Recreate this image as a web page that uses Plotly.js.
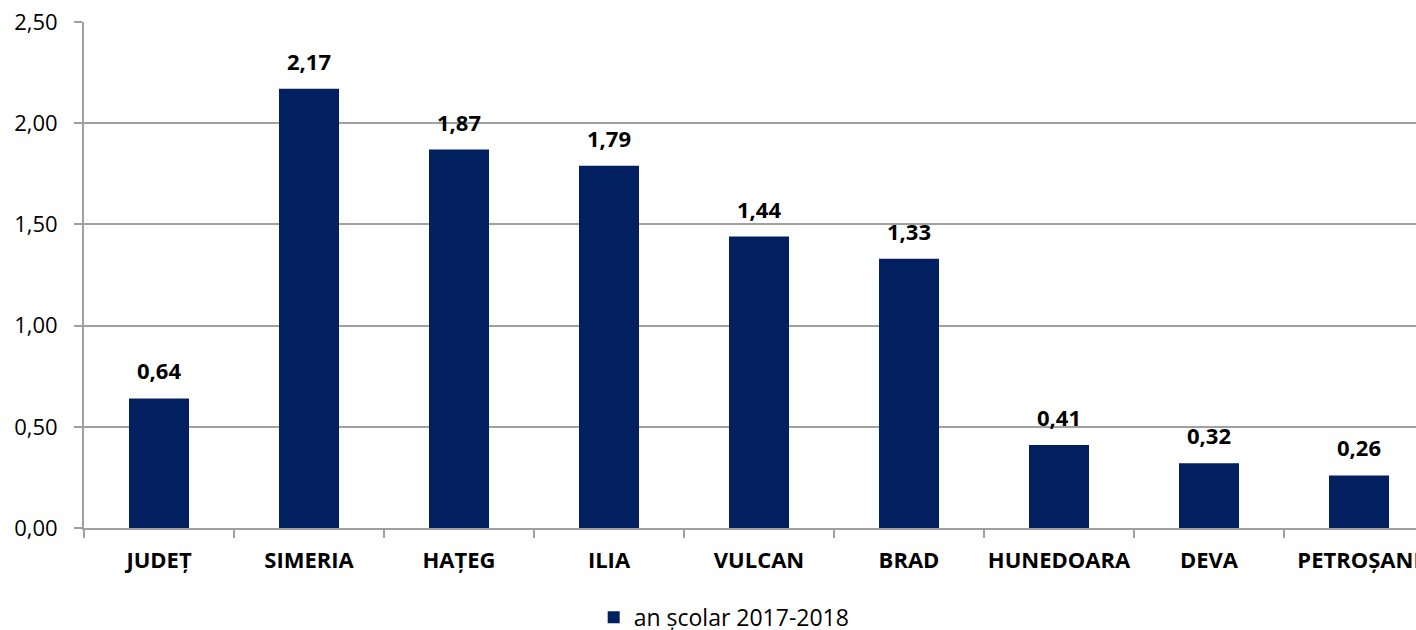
<!DOCTYPE html>
<html>
<head>
<meta charset="utf-8">
<script src="https://cdn.plot.ly/plotly-3.0.1.min.js"></script>
<style>
html,body{margin:0;padding:0;overflow:hidden;background:#fff;}
#chart{width:1434px;height:630px;}
</style>
</head>
<body>
<div id="chart"></div>
<script>
const categories = ["JUDEȚ","SIMERIA","HAȚEG","ILIA","VULCAN","BRAD","HUNEDOARA","DEVA","PETROȘANI"];
const values = [0.64, 2.17, 1.87, 1.79, 1.44, 1.33, 0.41, 0.32, 0.26];
const seriesName = "an școlar 2017-2018";

const FONT = "'Open Sans', 'Noto Sans', sans-serif";
const barColor = "#022060";

const trace = {
  type: "bar",
  x: categories,
  y: values,
  name: seriesName,
  marker: {color: barColor},
  hoverinfo: "none"
};

const annotations = categories.map((c, i) => ({
  x: c,
  y: values[i],
  xref: "x",
  yref: "y",
  text: values[i].toFixed(2).replace(".", ","),
  showarrow: false,
  yanchor: "bottom",
  yshift: 11,
  font: {family: FONT, size: 22, color: "#000", weight: "bold"}
}));

const layout = {
  width: 1434,
  height: 630,
  margin: {l: 84, r: 0, t: 22, b: 102, autoexpand: false},
  paper_bgcolor: "#fff",
  plot_bgcolor: "#fff",
  separators: ",.",
  bargap: 0.6,
  showlegend: true,
  legend: {
    orientation: "h",
    xref: "container",
    yref: "container",
    x: 0.414,
    xanchor: "left",
    y: 0.02,
    yanchor: "middle",
    font: {family: FONT, size: 23, color: "#000"},
    itemwidth: 30
  },
  xaxis: {
    type: "category",
    range: [-0.5, 8.5],
    showline: true,
    linecolor: "#a0a0a0",
    linewidth: 2,
    ticks: "outside",
    tickson: "boundaries",
    ticklen: 8,
    tickwidth: 2,
    tickcolor: "#a0a0a0",
    ticklabelstandoff: 12,
    tickangle: 0,
    showgrid: false,
    tickfont: {family: FONT, size: 22, color: "#000", weight: "bold"},
    fixedrange: true
  },
  yaxis: {
    range: [0, 2.5],
    dtick: 0.5,
    tick0: 0,
    tickformat: ".2f",
    showline: true,
    linecolor: "#a0a0a0",
    linewidth: 2,
    ticks: "outside",
    ticklen: 8,
    tickwidth: 2,
    tickcolor: "#a0a0a0",
    ticklabelstandoff: 12,
    showgrid: true,
    gridcolor: "#a0a0a0",
    gridwidth: 2,
    zeroline: false,
    tickfont: {family: FONT, size: 22, color: "#000"},
    fixedrange: true
  },
  annotations: annotations
};

Plotly.newPlot("chart", [trace], layout, {displayModeBar: false, staticPlot: true});
</script>
</body>
</html>
